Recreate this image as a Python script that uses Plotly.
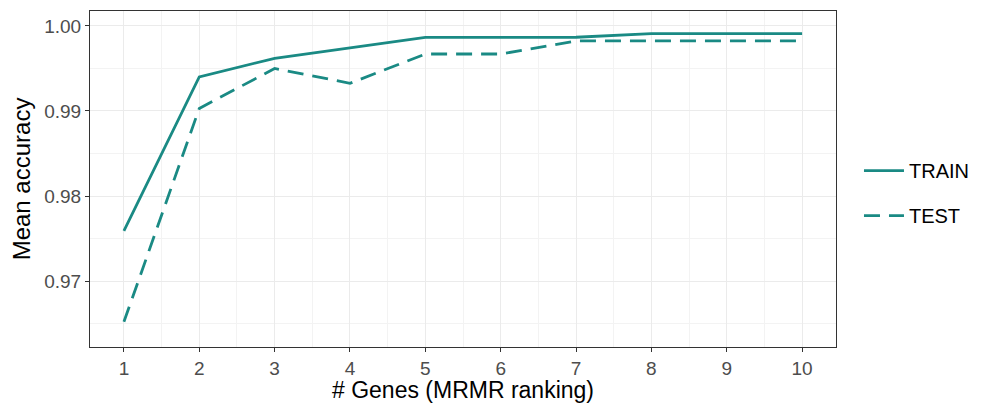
import plotly.graph_objects as go

# Mean accuracy by number of genes (MRMR ranking)
n_genes = [1, 2, 3, 4, 5, 6, 7, 8, 9, 10]
train_acc = [0.9759, 0.9940, 0.9962, 0.99745, 0.99865, 0.99865, 0.99867, 0.9991, 0.9991, 0.9991]
test_acc = [0.9652, 0.9903, 0.9950, 0.99326, 0.9967, 0.9967, 0.99824, 0.99824, 0.99824, 0.99824]

x_ticks = list(range(1, 11))
y_ticks = [0.97, 0.98, 0.99, 1.00]
y_tick_labels = ["0.97", "0.98", "0.99", "1.00"]

teal = "#1a8a84"
font_family = "Liberation Sans, Arial, sans-serif"

fig = go.Figure()
fig.add_trace(go.Scatter(
    x=n_genes, y=train_acc, mode="lines", name="TRAIN", legendgroup="train",
    line=dict(color=teal, width=2.8),
))
fig.add_trace(go.Scatter(
    x=n_genes, y=test_acc, mode="lines", name="TEST", legendgroup="test",
    line=dict(color=teal, width=2.8, dash="16px,9px"),
))

axis_common = dict(
    showline=True, linecolor="#333333", linewidth=1, mirror=True,
    ticks="outside", ticklen=4, tickcolor="#333333", tickwidth=1,
    showgrid=True, gridcolor="#EBEBEB", gridwidth=1,
    zeroline=False, automargin=False,
    tickfont=dict(family=font_family, size=19, color="#4D4D4D"),
)

fig.update_layout(
    width=981, height=403,
    margin=dict(l=90, r=145, t=11, b=56, autoexpand=False),
    paper_bgcolor="white", plot_bgcolor="white",
    font=dict(family=font_family),
    xaxis=dict(
        **axis_common,
        range=[0.55, 10.45],
        tickvals=x_ticks,
        ticklabelstandoff=0,
        minor=dict(showgrid=True, gridcolor="#F3F3F3", gridwidth=1, dtick=0.5, tick0=0.5, ticks=""),
        title=dict(text="# Genes (MRMR ranking)", font=dict(family=font_family, size=23, color="black"), standoff=7),
    ),
    yaxis=dict(
        **axis_common,
        range=[0.96224, 1.00176],
        tickvals=y_ticks, ticktext=y_tick_labels,
        minor=dict(showgrid=True, gridcolor="#F3F3F3", gridwidth=1, dtick=0.005, tick0=0.965, ticks=""),
        title=dict(text="Mean accuracy", font=dict(family=font_family, size=24, color="black"), standoff=6),
    ),
    legend=dict(
        x=1.0308, xanchor="left", xref="paper",
        y=0.458, yanchor="middle",
        font=dict(family=font_family, size=20, color="black"),
        bgcolor="rgba(0,0,0,0)",
        itemwidth=40,
        tracegroupgap=16,
    ),
    showlegend=True,
)

fig.write_html("out.html")
